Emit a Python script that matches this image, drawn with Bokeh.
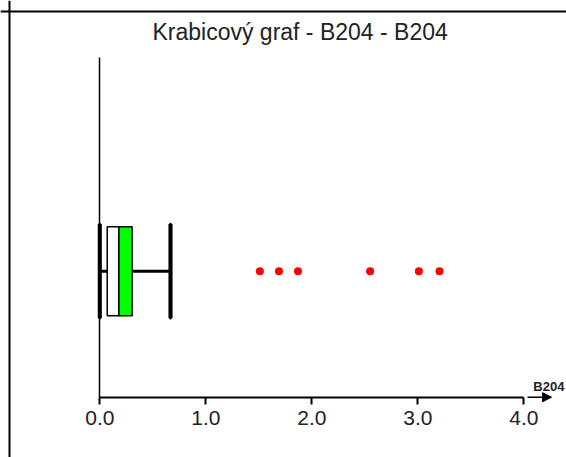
from bokeh.plotting import figure
from bokeh.models import (LinearAxis, FixedTicker, Range1d, Span, Label,
                          Arrow, NormalHead, ColumnDataSource)
from bokeh.embed import file_html
from bokeh.resources import INLINE

# Box-plot summary of B204
variable = "B204"
title_text = "Krabicový graf - B204 -  B204"
whisker_low = [0.0]
q1 = [0.07]
median = [0.18]
q3 = [0.305]
whisker_high = [0.667]
outliers = [1.51, 1.69, 1.87, 2.55, 3.01, 3.205]
tick_values = [0, 1, 2, 3, 4]
tick_labels = ["0.0", "1.0", "2.0", "3.0", "4.0"]

FONT = "Liberation Sans Narrow, Liberation Sans, Arial, sans-serif"
ROW = 1.0          # vertical position of the single box

p = figure(width=566, height=457, output_backend="svg", toolbar_location=None,
           x_range=Range1d(-0.9368, 4.4028), y_range=Range1d(-0.4786, 3.1484),
           x_axis_location=None, y_axis_location=None,
           min_border=0, min_border_left=0, min_border_right=0,
           min_border_top=0, min_border_bottom=0)
p.outline_line_color = None
p.background_fill_color = "white"
p.border_fill_color = "white"
p.xgrid.visible = False
p.ygrid.visible = False

# page border (top and left edges)
p.add_layout(Span(location=-0.852, dimension="height", line_color="black", line_width=2))
p.add_layout(Span(location=3.061, dimension="width", line_color="black", line_width=2))

# horizontal value axis lying on y = 0
xaxis = LinearAxis(fixed_location=0, bounds=(0, 4),
                   ticker=FixedTicker(ticks=tick_values, minor_ticks=[]))
xaxis.major_label_overrides = {v: s for v, s in zip(tick_values, tick_labels)}
xaxis.axis_line_width = 2
xaxis.major_tick_line_width = 2
xaxis.major_tick_in = 0
xaxis.major_tick_out = 7
xaxis.minor_tick_line_color = None
xaxis.major_label_standoff = 7
xaxis.major_label_text_font = FONT
xaxis.major_label_text_font_size = "21px"
xaxis.major_label_text_color = "#222222"
p.add_layout(xaxis, "below")

# vertical axis line at x = 0
yaxis = LinearAxis(fixed_location=0, bounds=(0, 2.696),
                   ticker=FixedTicker(ticks=[], minor_ticks=[]))
yaxis.axis_line_width = 1.5
yaxis.major_tick_line_color = None
yaxis.minor_tick_line_color = None
yaxis.major_label_text_font_size = "0px"
p.add_layout(yaxis, "left")

# arrow continuing the value axis and its name
p.add_layout(Arrow(x_start=4.035, y_start=0, x_end=4.262, y_end=0,
                   line_color="black", line_width=1.5,
                   end=NormalHead(size=9, fill_color="black", line_color="black")))
p.add_layout(Label(x=4.09, y=0.087, text=variable, text_font=FONT,
                   text_font_size="13px", text_font_style="bold",
                   text_color="#222222", text_baseline="alphabetic"))

# chart title
p.add_layout(Label(x=1.92, y=2.897, text=title_text, text_font=FONT,
                   text_font_size="23px", text_color="#222222",
                   text_align="center", text_baseline="alphabetic"))

src = ColumnDataSource(dict(y=[ROW], lo=whisker_low, q1=q1, med=median,
                            q3=q3, hi=whisker_high))

box_h = 0.706
cap_h = 0.74

# whiskers
p.segment(x0="lo", y0="y", x1="q1", y1="y", source=src, line_color="black", line_width=3)
p.segment(x0="q3", y0="y", x1="hi", y1="y", source=src, line_color="black", line_width=3)
for col in ("lo", "hi"):
    p.rect(x=col, y="y", width=0.001, height=cap_h, source=src,
           fill_color=None, line_color="black", line_width=4)

# box halves
p.hbar(y="y", left="q1", right="med", height=box_h, source=src,
       fill_color="white", line_color="black", line_width=1.5)
p.hbar(y="y", left="med", right="q3", height=box_h, source=src,
       fill_color="#00ff00", line_color="black", line_width=1.5)

# outliers
p.scatter(x=outliers, y=[ROW] * len(outliers), size=8, marker="circle",
          fill_color="red", line_color=None)

open("out.html", "w").write(file_html(p, INLINE))
